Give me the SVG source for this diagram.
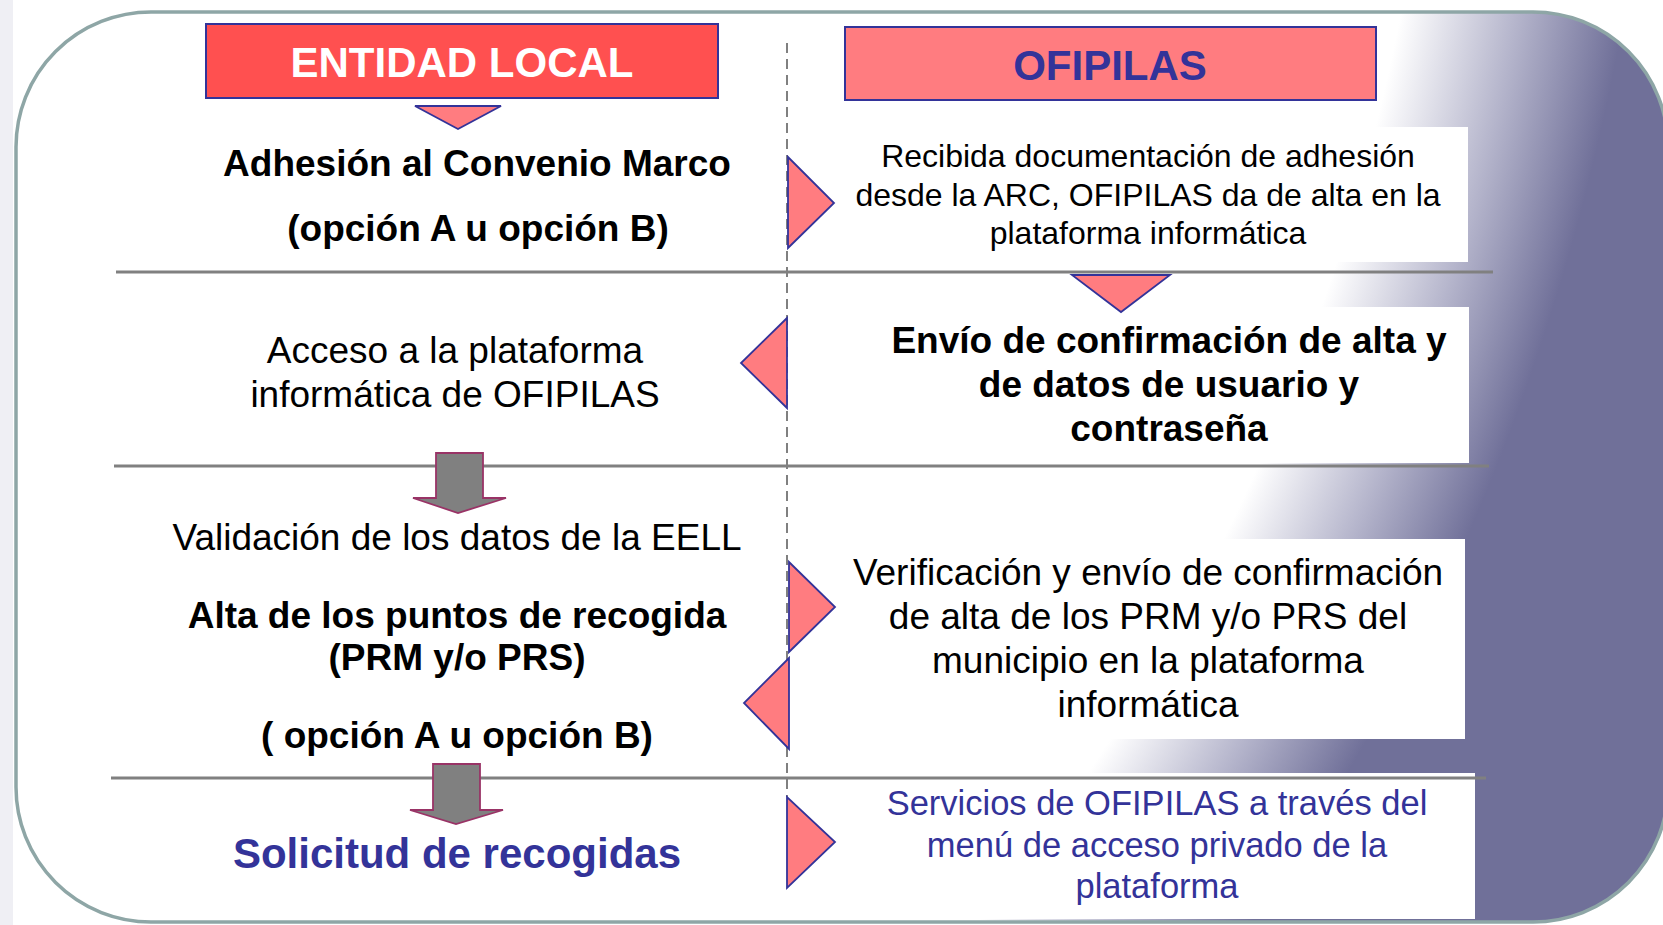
<svg xmlns="http://www.w3.org/2000/svg" width="1663" height="925" viewBox="0 0 1663 925">
<defs>
<radialGradient id="bg" gradientUnits="userSpaceOnUse" cx="-627" cy="-377" r="2320">
<stop offset="0" stop-color="#ffffff"/>
<stop offset="0.89" stop-color="#ffffff"/>
<stop offset="0.94" stop-color="#b4b4cb"/>
<stop offset="0.985" stop-color="#707099"/>
<stop offset="1" stop-color="#707099"/>
</radialGradient>
<style>
.t{font-family:"Liberation Sans",Arial,sans-serif;text-anchor:middle;fill:#000}
.b{font-weight:bold}
.blue{fill:#333399}
.tri{fill:#ff7c80;stroke:#333399;stroke-width:1.8;stroke-linejoin:miter}
.hl{stroke:#808080;stroke-width:3;fill:none}
.wb{fill:#ffffff}
.ga{fill:#808080;stroke:#993366;stroke-width:1.8}
</style>
</defs>
<rect x="0" y="0" width="1663" height="925" fill="#ffffff"/>
<rect x="0" y="0" width="13" height="925" fill="#efeff4"/>
<rect id="frame" x="16" y="12" width="1652" height="910" rx="135" ry="135" fill="url(#bg)" stroke="#8ea6a6" stroke-width="3.5"/>

<g id="white-boxes">
<rect class="wb" x="845" y="127" width="623" height="135"/>
<rect class="wb" x="845" y="307" width="624" height="156"/>
<rect class="wb" x="845" y="539" width="620" height="200"/>
<rect class="wb" x="845" y="773" width="630" height="146"/>
</g>

<g id="connectors">
<line class="hl" x1="116" y1="272" x2="1493" y2="272"/>
<line class="hl" x1="114" y1="466" x2="1489" y2="466"/>
<line class="hl" x1="111" y1="778" x2="1486" y2="778"/>
<line x1="787" y1="43" x2="787" y2="797" stroke="#808080" stroke-width="2" stroke-dasharray="10 6"/>
<polygon class="tri" points="415,106 501,106 458,129"/>
<polygon class="tri" points="1072,275 1170,275 1121,312"/>
<polygon class="tri" points="788,157 788,248 834,203"/>
<polygon class="tri" points="787,318 787,408 741,363"/>
<polygon class="tri" points="789,562 789,652 835,607"/>
<polygon class="tri" points="789,658 789,749 744,703"/>
<polygon class="tri" points="787,797 787,888 835,842"/>
<path class="ga" d="M436,453 H483 V498 H506 L458,513 L413,498 H436 Z"/>
<path class="ga" d="M433,764 H480 V810 H503 L456,824 L410,810 H433 Z"/>
</g>

<g id="entidad-local">
<rect x="206" y="24" width="512" height="74" fill="#ff5050" stroke="#333399" stroke-width="2"/>
<text class="t b" x="462" y="77" font-size="42" fill="#ffffff" style="fill:#ffffff">ENTIDAD LOCAL</text>
</g>

<g id="ofipilas">
<rect x="845" y="27" width="531" height="73" fill="#ff7c80" stroke="#333399" stroke-width="2"/>
<text class="t b blue" x="1110" y="80" font-size="42">OFIPILAS</text>
</g>

<g id="adhesion">
<text class="t b" x="477" y="176" font-size="37">Adhesión al Convenio Marco</text>
<text class="t b" x="478" y="241" font-size="37">(opción A u opción B)</text>
</g>

<g id="recibida">
<text class="t" x="1148" y="167" font-size="32">Recibida documentación de adhesión</text>
<text class="t" x="1148" y="206" font-size="32">desde la ARC, OFIPILAS da de alta en la</text>
<text class="t" x="1148" y="244" font-size="32">plataforma informática</text>
</g>

<g id="envio">
<text class="t b" x="1169" y="353" font-size="37">Envío de confirmación de alta y</text>
<text class="t b" x="1169" y="397" font-size="37">de datos de usuario y</text>
<text class="t b" x="1169" y="441" font-size="37">contraseña</text>
</g>

<g id="acceso">
<text class="t" x="455" y="363" font-size="37">Acceso a la plataforma</text>
<text class="t" x="455" y="407" font-size="37">informática de OFIPILAS</text>
</g>

<g id="alta">
<text class="t" x="457" y="550" font-size="37">Validación de los datos de la EELL</text>
<text class="t b" x="457" y="628" font-size="37">Alta de los puntos de recogida</text>
<text class="t b" x="457" y="670" font-size="37">(PRM y/o PRS)</text>
<text class="t b" x="457" y="748" font-size="37">( opción A u opción B)</text>
</g>

<g id="verificacion">
<text class="t" x="1148" y="585" font-size="37">Verificación y envío de confirmación</text>
<text class="t" x="1148" y="629" font-size="37">de alta de los PRM y/o PRS del</text>
<text class="t" x="1148" y="673" font-size="37">municipio en la plataforma</text>
<text class="t" x="1148" y="717" font-size="37">informática</text>
</g>

<g id="solicitud">
<text class="t b blue" x="457" y="868" font-size="42">Solicitud de recogidas</text>
</g>

<g id="servicios">
<text class="t blue" x="1157" y="815" font-size="34.5">Servicios de OFIPILAS a través del</text>
<text class="t blue" x="1157" y="857" font-size="34.5">menú de acceso privado de la</text>
<text class="t blue" x="1157" y="898" font-size="34.5">plataforma</text>
</g>
</svg>
